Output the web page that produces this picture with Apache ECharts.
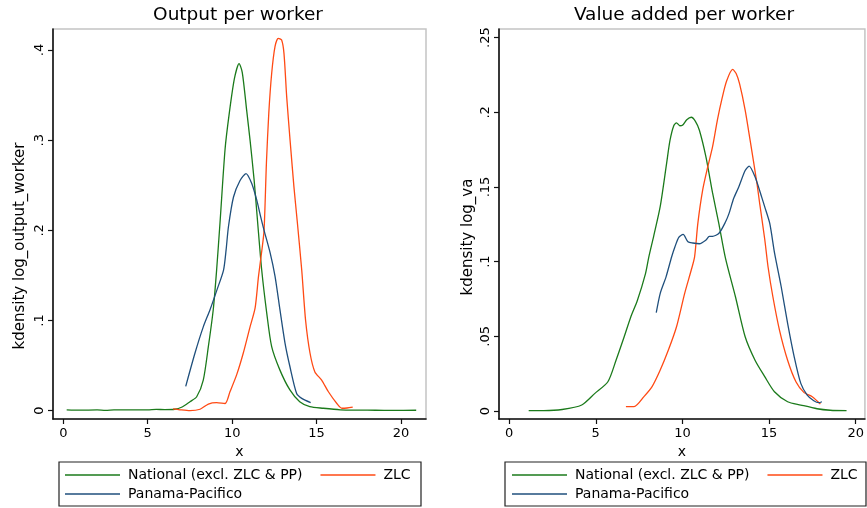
<!DOCTYPE html>
<html>
<head>
<meta charset="utf-8">
<script src="https://cdn.jsdelivr.net/npm/echarts@6/dist/echarts.min.js"></script>
<style>
  html, body { margin: 0; padding: 0; background: #ffffff; }
  #chart { width: 867px; height: 508px; }
</style>
</head>
<body>
<div id="chart"></div>
<script>
// Tick values
const xTicks = [0, 5, 10, 15, 20];
const outputYTicks = [0, 0.1, 0.2, 0.3, 0.4];
const vaYTicks = [0, 0.05, 0.1, 0.15, 0.2, 0.25];

// Groups shown in both panels
const groupNames = ['National (excl. ZLC & PP)', 'ZLC', 'Panama-Pacifico'];

// Kernel density of log output per worker: [x, density]
const outputNational = [[0.2,0.001],[1,0.0006],[2,0.0009],[2.5,0.0004],[3,0.0009],[4,0.001],[5,0.001],[5.5,0.0015],[6,0.0012],[6.6,0.0016],[7.0,0.0038],[7.5,0.010],[7.9,0.0155],[8.29,0.034],[8.59,0.071],[8.88,0.112],[9.08,0.156],[9.29,0.211],[9.58,0.29],[9.83,0.33],[10.13,0.368],[10.41,0.385],[10.6,0.375],[10.86,0.333],[11.06,0.300],[11.3,0.256],[11.5,0.211],[11.75,0.156],[12.05,0.108],[12.34,0.071],[12.83,0.045],[13.42,0.023],[14.0,0.010],[14.6,0.0045],[15.4,0.0027],[16.4,0.001],[17.5,0.0006],[18.5,0.0005],[19.5,0.0003],[20.9,0.0005]];
const outputZLC = [[6.5,0.002],[6.9,0.001],[7.5,0],[8.1,0.0016],[8.59,0.0074],[9.08,0.009],[9.58,0.008],[9.87,0.021],[10.27,0.04],[10.66,0.064],[11.06,0.093],[11.36,0.114],[11.56,0.149],[11.76,0.178],[11.89,0.2],[12.03,0.275],[12.17,0.33],[12.34,0.374],[12.54,0.404],[12.73,0.413],[12.93,0.411],[13.07,0.396],[13.23,0.348],[13.43,0.300],[13.66,0.248],[13.85,0.211],[14.12,0.156],[14.35,0.1],[14.61,0.064],[14.9,0.043],[15.3,0.034],[15.7,0.021],[16.2,0.008],[16.5,0.0027],[16.8,0.003],[17.14,0.004]];
const outputPP = [[7.25,0.027],[7.8,0.064],[8.29,0.093],[8.69,0.112],[9.1,0.134],[9.49,0.156],[9.64,0.178],[9.78,0.204],[10.08,0.237],[10.46,0.255],[10.82,0.263],[11.16,0.252],[11.45,0.234],[11.69,0.215],[11.89,0.2],[12.25,0.175],[12.54,0.149],[12.83,0.112],[13.13,0.075],[13.42,0.049],[13.82,0.019],[14.12,0.0137],[14.65,0.009]];

// Kernel density of log value added per worker: [x, density]
const vaNational = [[1.13,0.0003],[2,0.0003],[3.06,0.001],[4.19,0.004],[4.95,0.0118],[5.7,0.0196],[6.17,0.034],[6.64,0.0497],[7.02,0.063],[7.4,0.074],[7.87,0.092],[8.06,0.103],[8.34,0.117],[8.72,0.137],[9.09,0.166],[9.28,0.181],[9.5,0.191],[9.66,0.193],[9.85,0.191],[10.0,0.1913],[10.25,0.195],[10.51,0.1967],[10.75,0.194],[10.98,0.188],[11.36,0.170],[11.74,0.146],[12.11,0.125],[12.49,0.102],[13.06,0.0765],[13.62,0.0497],[14.19,0.034],[14.75,0.023],[15.31,0.0129],[16.07,0.0062],[16.83,0.004],[17.77,0.0015],[18.53,0.0005],[19.47,0.0002]];
const vaZLC = [[6.74,0.0029],[7.21,0.0029],[7.78,0.0096],[8.25,0.0163],[8.72,0.0274],[9.19,0.0408],[9.66,0.0564],[10.13,0.0788],[10.51,0.0944],[10.7,0.103],[10.89,0.1256],[11.17,0.148],[11.46,0.1634],[11.74,0.177],[12.02,0.195],[12.3,0.210],[12.55,0.221],[12.9,0.2287],[13.1,0.226],[13.3,0.219],[13.62,0.2015],[13.91,0.181],[14.28,0.154],[14.47,0.138],[14.75,0.115],[14.94,0.0966],[15.22,0.0765],[15.6,0.0542],[16.07,0.034],[16.55,0.0196],[17.02,0.0123],[17.49,0.0096],[17.96,0.0047]];
const vaPP = [[8.49,0.0658],[8.72,0.0788],[9.06,0.090],[9.38,0.1033],[9.57,0.110],[9.79,0.1163],[10.04,0.1183],[10.32,0.1133],[10.6,0.1125],[10.98,0.112],[11.36,0.1145],[11.55,0.117],[11.74,0.117],[12.11,0.119],[12.49,0.1267],[12.68,0.132],[12.96,0.1424],[13.25,0.150],[13.62,0.161],[13.85,0.164],[14.19,0.1568],[14.57,0.1434],[14.75,0.1367],[15.04,0.1256],[15.32,0.1055],[15.7,0.0832],[16.07,0.0587],[16.45,0.0363],[16.83,0.0185],[17.2,0.0107],[17.58,0.0069],[17.87,0.0056],[18.05,0.0062]];

const FONT = 'DejaVu Sans';
const COLORS = ['#1b7a1b', '#ff4a14', '#1f4f7c'];
const INK = '#000000';

function fmtY(v) {
  if (v === 0) return '0';
  return String(+v.toFixed(3)).replace(/^0\./, '.');
}

function xAxisFor(gridIndex, min, max) {
  return {
    type: 'value', gridIndex, min, max,
    name: 'x', nameLocation: 'middle', nameGap: 19,
    nameTextStyle: { fontFamily: FONT, fontSize: 14, color: INK },
    axisLine: { show: true, onZero: false, lineStyle: { color: '#111', width: 1.6 } },
    axisTick: { show: true, length: 5, customValues: xTicks, lineStyle: { color: '#111', width: 1.2 } },
    axisLabel: { customValues: xTicks, margin: 8, fontFamily: FONT, fontSize: 13, color: INK,
                 formatter: v => String(Math.round(v)) },
    splitLine: { show: false }
  };
}

function yAxisFor(gridIndex, name, min, max, ticks, shift, gap) {
  return {
    type: 'value', gridIndex, min, max,
    name, nameLocation: 'middle', nameGap: gap, nameRotate: 90,
    nameTextStyle: { fontFamily: FONT, fontSize: 15, color: INK, padding: [0, shift * 2, 0, 0] },
    axisLine: { show: true, onZero: false, lineStyle: { color: '#111', width: 1.6 } },
    axisTick: { show: true, length: 5, customValues: ticks, lineStyle: { color: '#111', width: 1.2 } },
    axisLabel: { customValues: ticks, rotate: 90, margin: 7, fontFamily: FONT, fontSize: 13, color: INK,
                 formatter: fmtY },
    splitLine: { show: false }
  };
}

function lineSeries(name, data, idx, color) {
  return {
    type: 'line', name, data,
    xAxisIndex: idx, yAxisIndex: idx,
    smooth: 0.25, symbol: 'none', showSymbol: false,
    lineStyle: { color, width: 1.3 },
    itemStyle: { color },
    emphasis: { disabled: true },
    silent: true
  };
}

function legendRow(names, left, top) {
  return {
    data: names, left, top, orient: 'horizontal',
    padding: 0, itemGap: 18, itemWidth: 55, itemHeight: 1.5,
    icon: 'rect', selectedMode: false,
    textStyle: { fontFamily: FONT, fontSize: 14, color: INK, padding: [0, 0, 0, 3] }
  };
}

const option = {
  animation: false,
  backgroundColor: '#ffffff',
  title: [
    { text: 'Output per worker', left: 238, top: 6, textAlign: 'center', padding: 0,
      textStyle: { fontFamily: FONT, fontSize: 18.5, fontWeight: 'normal', color: INK } },
    { text: 'Value added per worker', left: 684, top: 6, textAlign: 'center', padding: 0,
      textStyle: { fontFamily: FONT, fontSize: 18.5, fontWeight: 'normal', color: INK } }
  ],
  grid: [
    { left: 53, top: 29, width: 373, height: 390, show: true, borderColor: '#c4c4c4', borderWidth: 1.5, backgroundColor: '#ffffff' },
    { left: 499, top: 29, width: 373, height: 390, show: true, borderColor: '#c4c4c4', borderWidth: 1.5, backgroundColor: '#ffffff' }
  ],
  xAxis: [
    xAxisFor(0, -0.61, 21.48),
    xAxisFor(1, -0.583, 20.53)
  ],
  yAxis: [
    yAxisFor(0, 'kdensity log_output_worker', -0.0092, 0.4233, outputYTicks, 22, 25),
    yAxisFor(1, 'kdensity log_va', -0.00536, 0.2558, vaYTicks, 13, 23)
  ],
  legend: [
    legendRow([groupNames[0], groupNames[1]], 65, 468),
    legendRow([groupNames[2]], 65, 487),
    legendRow([groupNames[0], groupNames[1]], 512, 468),
    legendRow([groupNames[2]], 512, 487)
  ],
  graphic: [
    { type: 'rect', shape: { x: 59, y: 462, width: 362, height: 44 }, silent: true,
      style: { fill: 'none', stroke: '#222', lineWidth: 1.2 } },
    { type: 'rect', shape: { x: 505, y: 462, width: 361, height: 44 }, silent: true,
      style: { fill: 'none', stroke: '#222', lineWidth: 1.2 } }
  ],
  series: [
    lineSeries(groupNames[0], outputNational, 0, COLORS[0]),
    lineSeries(groupNames[1], outputZLC, 0, COLORS[1]),
    lineSeries(groupNames[2], outputPP, 0, COLORS[2]),
    lineSeries(groupNames[0], vaNational, 1, COLORS[0]),
    lineSeries(groupNames[1], vaZLC, 1, COLORS[1]),
    lineSeries(groupNames[2], vaPP, 1, COLORS[2])
  ]
};

const chart = echarts.init(document.getElementById('chart'), null, { renderer: 'canvas' });
chart.setOption(option);
</script>
</body>
</html>
